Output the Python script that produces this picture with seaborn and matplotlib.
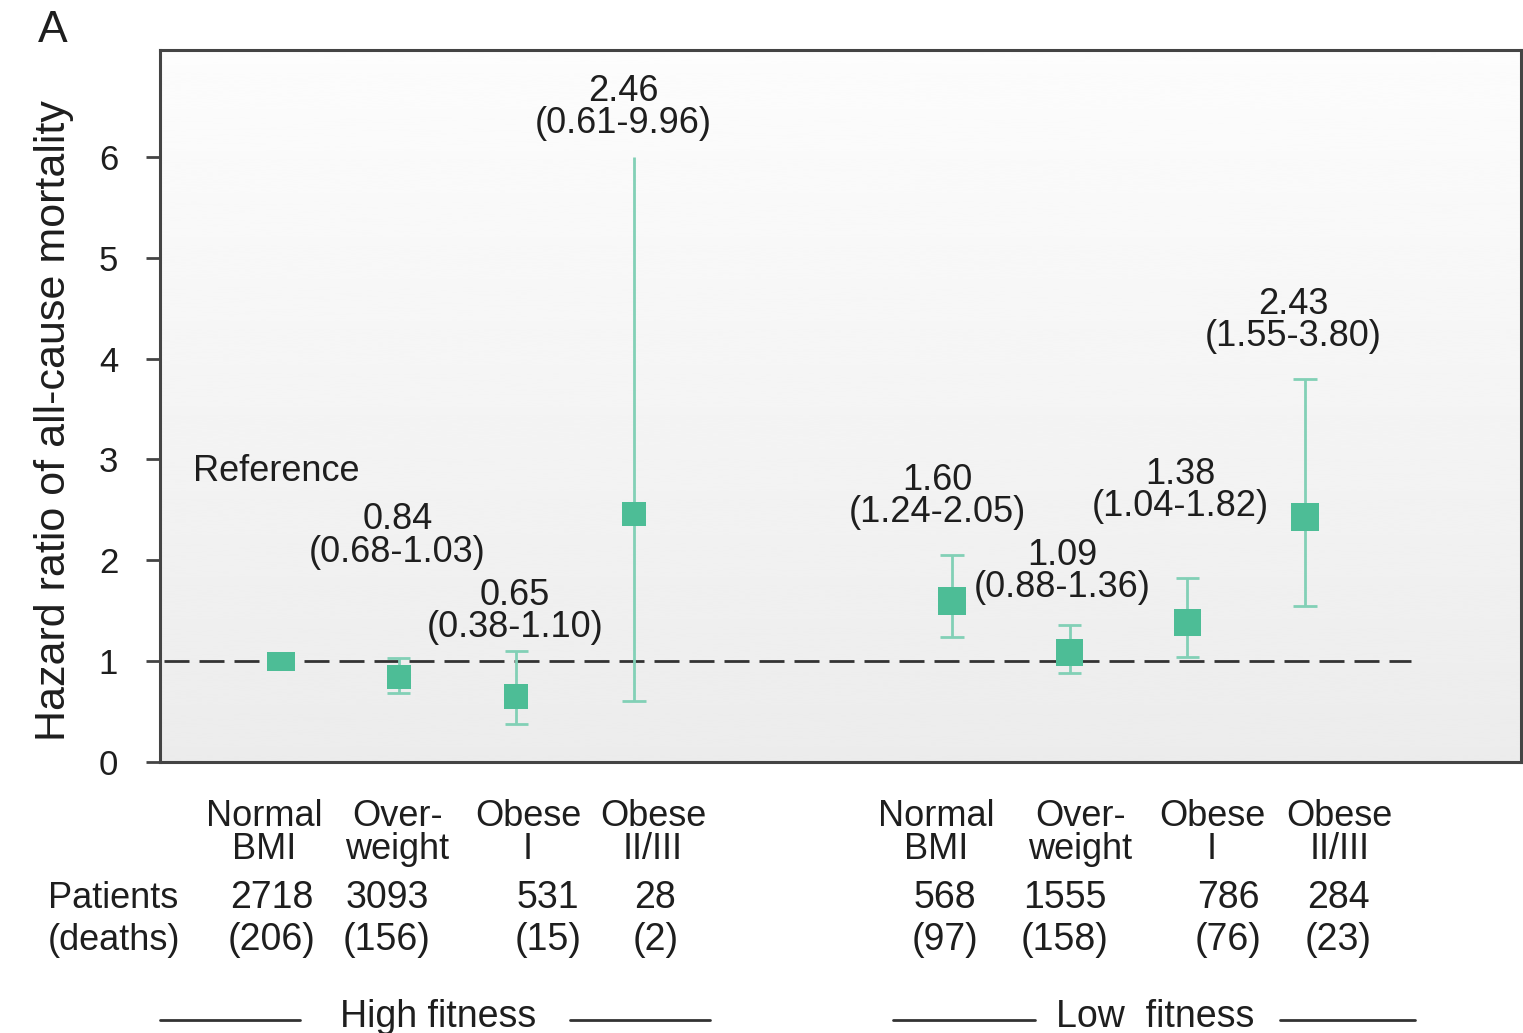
import numpy as np
import pandas as pd
import matplotlib.pyplot as plt
from matplotlib.lines import Line2D
from matplotlib.transforms import blended_transform_factory
import seaborn as sns

# data
groups = ['High fitness'] * 4 + ['Low fitness'] * 4
categories = ['Normal\nBMI', 'Over-\nweight', 'Obese\nI', 'Obese\nII/III'] * 2
hr = [1.00, 0.84, 0.65, 2.46, 1.60, 1.09, 1.38, 2.43]
ci_low = [np.nan, 0.68, 0.38, 0.61, 1.24, 0.88, 1.04, 1.55]
ci_high = [np.nan, 1.03, 1.10, 9.96, 2.05, 1.36, 1.82, 3.80]
patients = [2718, 3093, 531, 28, 568, 1555, 786, 284]
deaths = [206, 156, 15, 2, 97, 158, 76, 23]

# layout (x positions on the axis, label spots)
xpos = [0, 1, 2, 3, 5.7, 6.7, 7.7, 8.7]
label_xy = [None, (0.99, 2.24), (1.99, 1.49), (2.91, 6.49),
            (5.58, 2.63), (6.64, 1.89), (7.64, 2.69), (8.60, 4.38)]
cat_x = [-0.14, 0.99, 2.10, 3.16, 5.57, 6.79, 7.91, 8.99]
num_x = [-0.08, 0.90, 2.27, 3.18, 5.64, 6.66, 8.05, 8.98]
msize = [0, 290, 290, 270, 390, 370, 370, 390]

df = pd.DataFrame({'group': groups, 'category': categories, 'hr': hr,
                   'lo': ci_low, 'hi': ci_high, 'x': xpos, 'ms': msize})

sns.set_style('ticks')
plt.rcParams['font.family'] = ['Liberation Sans', 'DejaVu Sans']
plt.rcParams['text.color'] = '#1e1e1e'

green = '#4dbd96'
bar_green = '#82d0b6'
ytop = 6.0  # the original clips the CI at the top tick
fs = 26

fig = plt.figure(figsize=(15.23, 10.33), dpi=100)
ax = fig.add_axes([0.105, 0.2623, 0.8937, 0.6893])
xmin, xmax, ymax = -1.028, 10.535, 7.06

# soft grey gradient inside the plot, light at the top
grad = np.linspace(0.99, 0.925, 256).reshape(-1, 1)
ax.imshow(grad, extent=[xmin, xmax, 0, ymax], origin='upper', aspect='auto',
          cmap='gray', vmin=0, vmax=1, zorder=0, interpolation='bicubic')

ax.hlines(1, -0.99, 9.6, colors='#333333', linestyles=(0, (9, 3.6)),
          linewidth=2, zorder=1)

ci = df.dropna()
tops = ci['hi'].clip(upper=ytop)
ax.vlines(ci['x'], ci['lo'], tops, color=bar_green, linewidth=2, zorder=2)
ax.hlines(ci['lo'], ci['x'] - 0.1, ci['x'] + 0.1, color=bar_green, linewidth=2, zorder=2)
capped = ci[ci['hi'] <= ytop]
ax.hlines(capped['hi'], capped['x'] - 0.1, capped['x'] + 0.1, color=bar_green,
          linewidth=2, zorder=2)

sns.scatterplot(data=ci, x='x', y='hr', size='ms', sizes=(280, 400), marker='s',
                color=green, edgecolor='none', legend=False, ax=ax, zorder=3)
# reference category drawn as a flat box
rect = [(-1.5, -1), (1.5, -1), (1.5, 1), (-1.5, 1), (-1.5, -1)]
sns.scatterplot(data=df[df['lo'].isna()], x='x', y='hr', marker=rect, s=420,
                color=green, edgecolor='none', legend=False, ax=ax, zorder=3)

for i, pos in enumerate(label_xy):
    if pos is None:
        continue
    ax.text(pos[0], pos[1], f'{hr[i]:.2f}\n({ci_low[i]:.2f}-{ci_high[i]:.2f})',
            ha='center', va='center', fontsize=fs, linespacing=0.9, zorder=4)
ax.text(-0.75, 2.88, 'Reference', ha='left', va='center', fontsize=fs)

ax.set_xlim(xmin, xmax)
ax.set_ylim(0, ymax)
ax.set_yticks(range(7))
ax.set_xticks([])
ax.tick_params(axis='y', length=10, width=2, pad=20, labelsize=25, color='#444444',
               labelcolor='#1e1e1e')
for s in ax.spines.values():
    s.set_color('#444444')
    s.set_linewidth(2.2)
ax.set_xlabel('')
ax.set_ylabel('Hazard ratio of all-cause mortality', fontsize=31, color='#1e1e1e')
ax.yaxis.set_label_coords(-0.063, 0.48)

# table under the plot
tr = blended_transform_factory(ax.transData, fig.transFigure)
for i in range(8):
    ax.text(cat_x[i], 1 - 833 / 1033, categories[i], transform=tr, ha='center',
            va='center', fontsize=fs, linespacing=0.95)
    ax.text(num_x[i], 1 - 898 / 1033, str(patients[i]), transform=tr,
            ha='center', va='center', fontsize=27)
    ax.text(num_x[i], 1 - 940 / 1033, f'({deaths[i]})', transform=tr,
            ha='center', va='center', fontsize=27)
fig.text(48 / 1523, 1 - 898 / 1033, 'Patients', ha='left', va='center', fontsize=fs)
fig.text(48 / 1523, 1 - 940 / 1033, '(deaths)', ha='left', va='center', fontsize=fs)

fig.text(438 / 1523, 1 - 1017 / 1033, 'High fitness', ha='center', va='center', fontsize=27)
fig.text(1155 / 1523, 1 - 1017 / 1033, 'Low  fitness', ha='center', va='center', fontsize=27)
for x0, x1 in [(160, 300), (570, 710), (893, 1035), (1280, 1415)]:
    fig.add_artist(Line2D([x0 / 1523, x1 / 1523], [1 - 1020 / 1033] * 2,
                          color='#333333', linewidth=2))

fig.text(53 / 1523, 1 - 30 / 1033, 'A', ha='center', va='center', fontsize=32)

plt.savefig('out.png', dpi=100)
